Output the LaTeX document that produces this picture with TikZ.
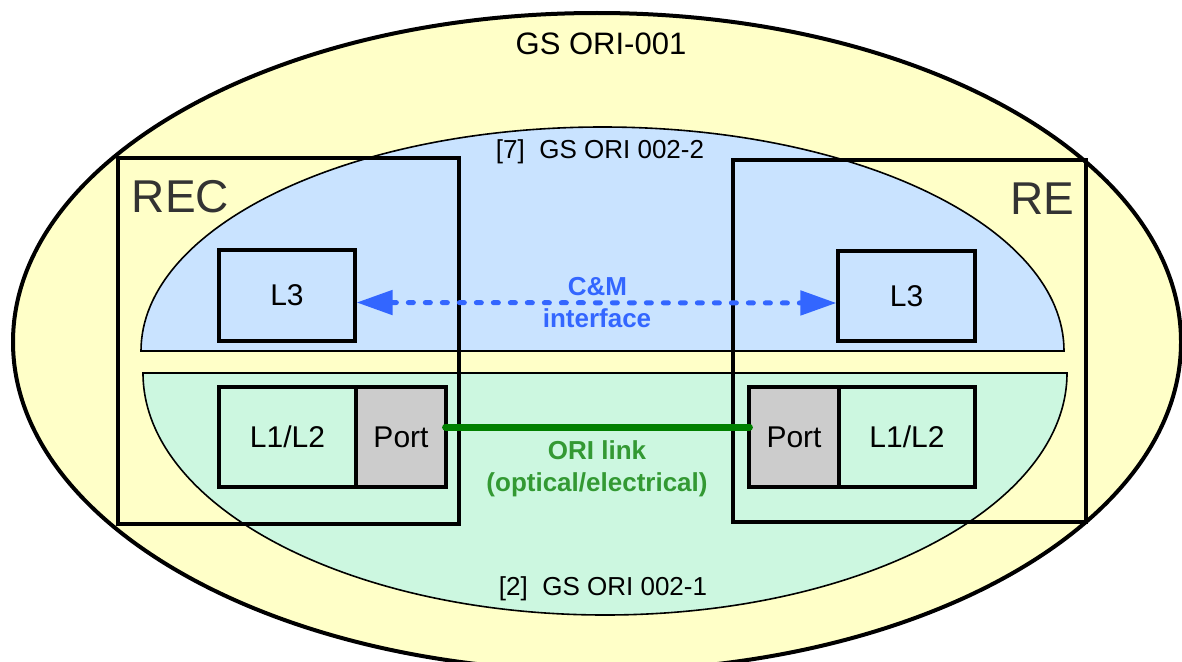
\documentclass[tikz,border=0pt]{standalone}
\usepackage{fontspec}
\setmainfont{Liberation Sans}
\usetikzlibrary{arrows.meta}
\definecolor{yel}{HTML}{FFFFC8}
\definecolor{bluefill}{HTML}{C9E3FF}
\definecolor{greenfill}{HTML}{CCF7E0}
\definecolor{portgray}{HTML}{CCCCCC}
\definecolor{cmblue}{HTML}{3366FF}
\definecolor{linkgreen}{HTML}{008000}
\definecolor{txtgreen}{HTML}{339933}
\definecolor{darkgray}{HTML}{333333}
\begin{document}
\begin{tikzpicture}[x=1pt,y=-1pt,
  box/.style={draw=black,line width=3.2pt,inner sep=0pt,font=\fontsize{30}{36}\selectfont},
  group/.style={draw=black,line width=3.2pt,inner sep=0pt},
  big/.style={font=\fontsize{46}{52}\selectfont,text=darkgray,anchor=base,inner sep=0pt},
  std/.style={font=\fontsize{26}{31}\selectfont,anchor=base,inner sep=0pt},
  cmtext/.style={font=\fontsize{26}{31}\selectfont\bfseries,text=cmblue,anchor=base,inner sep=0pt},
  linktext/.style={font=\fontsize{26}{31}\selectfont\bfseries,text=txtgreen,anchor=base,inner sep=0pt}]
\useasboundingbox (0,0) rectangle (1182,661);
% outer ellipse
\draw[line width=4pt,fill=yel] (597,342) ellipse [x radius=584, y radius=329];
\node[font=\fontsize{31}{37}\selectfont,anchor=base,inner sep=0pt] (gs1) at (601,55) {GS ORI-001};
% blue half ellipse (top)
\draw[line width=1.6pt,fill=bluefill] (141,351) arc[start angle=180,end angle=360,x radius=461.5,y radius=224] -- cycle;
% green half ellipse (bottom)
\draw[line width=1.6pt,fill=greenfill] (143,373) arc[start angle=180,end angle=0,x radius=462,y radius=242] -- cycle;
\node[std] (gs2) at (600,158) {[7]\ \ GS ORI 002-2};
\node[std] (gs3) at (603,595) {[2]\ \ GS ORI 002-1};
% REC / RE boxes
\node[group,minimum width=341pt,minimum height=366pt] (rec) at (288.5,341) {};
\node[group,minimum width=353pt,minimum height=362pt] (re) at (909.5,341) {};
\node[big] (reclabel) at (180.5,212) {REC};
\node[big] (relabel) at (1042.5,214) {RE};
% inner boxes
\node[box,fill=bluefill,minimum width=136pt,minimum height=91pt] (l3a) at (287,295.5) {L3};
\node[box,fill=bluefill,minimum width=137pt,minimum height=90pt] (l3b) at (906.5,296) {L3};
\node[box,fill=greenfill,minimum width=137pt,minimum height=100pt] (l12a) at (287.5,437) {L1/L2};
\node[box,fill=portgray,minimum width=90pt,minimum height=100pt] (porta) at (401,437) {Port};
\node[box,fill=portgray,minimum width=90pt,minimum height=100pt] (portb) at (794,437) {Port};
\node[box,fill=greenfill,minimum width=136pt,minimum height=100pt] (l12b) at (907,437) {L1/L2};
% C&M interface
\draw[cmblue,line width=5pt,line cap=round,dash pattern=on 5pt off 12pt,
  {Triangle[length=36pt,width=24pt]}-{Triangle[length=36pt,width=24pt]}]
  ([yshift=-7pt]l3a.east) -- ([yshift=-7pt]l3b.west);
\node[cmtext] (cm) at (597.5,295) {C\&M};
\node[cmtext] (cmi) at (597,327) {interface};
% ORI link
\draw[linkgreen,line width=7pt,line cap=round] ([xshift=-2pt,yshift=10pt]porta.east) -- ([xshift=2pt,yshift=10pt]portb.west);
\node[linktext] (ol) at (597,459) {ORI link};
\node[linktext] (oe) at (597,491) {(optical/electrical)};
\end{tikzpicture}
\end{document}
